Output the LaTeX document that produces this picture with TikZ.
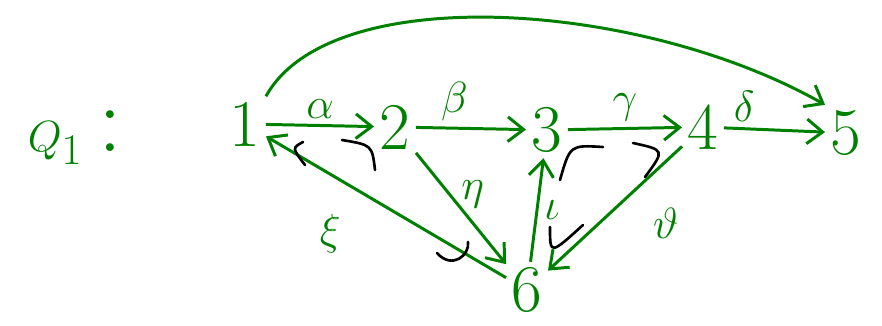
\documentclass[tikz,border=0pt]{standalone}
\usetikzlibrary{arrows.meta}
\begin{document}
\begin{tikzpicture}[x=0.02cm,y=-0.02cm,>={Straight Barb[length=9pt,width=14pt]},
  vtx/.style={inner sep=3pt,font=\fontsize{38}{38}\selectfont},
  arr/.style={->,line width=1.7pt},
  lbl/.style={font=\fontsize{30}{30}\selectfont},
  rel/.style={black,line width=1.5pt,line cap=round}]
  \useasboundingbox (0,0) rectangle (882,325);
  \begin{scope}[color=green!50!black]
    % quiver name
    \node (q) at (75,138) {\fontsize{54}{54}\selectfont $Q_1$\,:};
    % vertices
    \node[vtx] (1) at (245,124) {1};
    \node[vtx] (2) at (395,127) {2};
    \node[vtx] (3) at (547,130) {3};
    \node[vtx] (4) at (703,127) {4};
    \node[vtx] (5) at (846,133) {5};
    \node[vtx] (6) at (527,290) {6};
    % arrows
    \draw[arr] (1) -- node[lbl,above] {$\alpha$} (2);
    \draw[arr] (2) -- node[lbl,above,pos=0.35] {$\beta$} (3);
    \draw[arr] (3) -- node[lbl,above] {$\gamma$} (4);
    \draw[arr] (4) -- node[lbl,above,pos=0.2] {$\delta$} (5);
    \draw[arr] (2) -- node[lbl,above right=-4pt] {$\eta$} (6);
    \draw[arr] (6) -- node[lbl,below left=8pt,pos=0.6] {$\xi$} (1);
    \draw[arr] (6) -- node[lbl,right] {$\iota$} (3);
    \draw[arr] (4) -- node[lbl,below right=6pt,pos=0.35] {$\vartheta$} (6);
    \draw[arr] (1.north east) .. controls (330,-20) and (640,0) .. (5.north west);
  \end{scope}
  % relations
  \draw[rel] (303,142) .. controls (292,148) .. (305,165);
  \draw[rel] (342,140) .. controls (372,145) .. (375,170);
  \draw[rel] (437,253) .. controls (452,270) and (470,255) .. (468,242);
  \draw[rel] (560,180) .. controls (570,145) .. (603,147);
  \draw[rel] (633,143) .. controls (665,150) .. (645,177);
  \draw[rel] (550,227) .. controls (550,255) .. (583,225);
\end{tikzpicture}
\end{document}
